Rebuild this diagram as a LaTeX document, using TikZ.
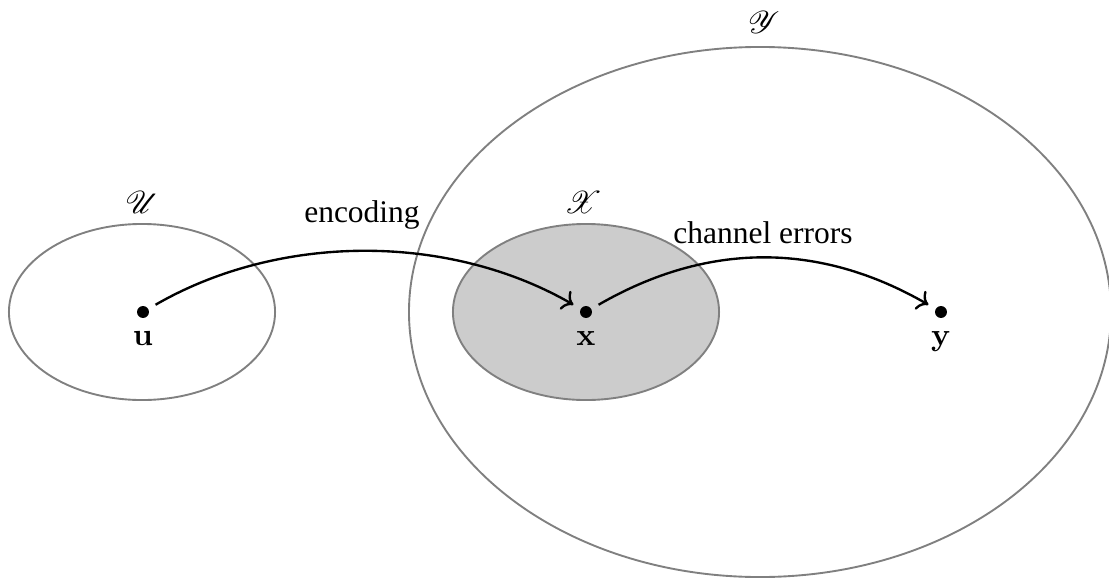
\documentclass[tikz,border=0pt]{standalone}
\usepackage[no-math]{fontspec}
\setmainfont{Liberation Serif}
\usepackage{mathrsfs}
\usetikzlibrary{shapes.geometric,arrows.meta}
\begin{document}
\begin{tikzpicture}[x=0.3175pt,y=-0.3175pt,
  set/.style={ellipse, draw=black!50, line width=0.6pt, inner sep=0pt},
  pointdot/.style={circle, fill=black, inner sep=0pt, minimum size=3.8pt},
  map/.style={->, line width=0.75pt, shorten <=2.5pt, shorten >=2.5pt},
  lbl/.style={anchor=base, inner sep=0pt},
]
\useasboundingbox (0,0) rectangle (1109,579);

% sets
\node[set, minimum width=222.9pt, minimum height=168.3pt] (Yset) at (760,312) {};
\node[set, fill=black!20, minimum width=84.5pt, minimum height=55.9pt] (Xset) at (586,312) {};
\node[set, minimum width=84.5pt, minimum height=55.9pt] (Uset) at (142,312) {};

% set names
\node[lbl] (Uname) at (142,213) {$\mathscr{U}$};
\node[lbl] (Xname) at (583,213) {$\mathscr{X}$};
\node[lbl] (Yname) at (764,33) {$\mathscr{Y}$};

% points
\node[pointdot] (u) at (143,312) {};
\node[pointdot] (x) at (586,312) {};
\node[pointdot] (y) at (941,312) {};
\node[lbl] (ulab) at (143,345) {$\mathbf{u}$};
\node[lbl] (xlab) at (586,345) {$\mathbf{x}$};
\node[lbl] (ylab) at (941,345) {$\mathbf{y}$};

% maps
\draw[map] (u) to[out=30, in=150, looseness=0.9] (x);
\draw[map] (x) to[out=30, in=150] (y);
\node[lbl] (enc) at (362,222) {encoding};
\node[lbl] (chan) at (763,243) {channel errors};
\end{tikzpicture}
\end{document}
